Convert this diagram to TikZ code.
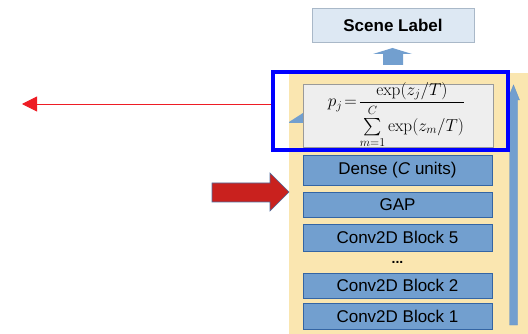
\documentclass[tikz,border=0pt]{standalone}
\usepackage{amsmath}
\usepackage{exscale}
\usepackage[no-math]{fontspec}
\setmainfont{Liberation Sans}
\usetikzlibrary{arrows.meta}
\definecolor{panelyellow}{HTML}{FAE6B0}
\definecolor{blkfill}{HTML}{729FCF}
\definecolor{blkline}{HTML}{3465A4}
\definecolor{labfill}{HTML}{DDE8F3}
\definecolor{labline}{HTML}{A9B8C8}
\definecolor{fmfill}{HTML}{EEEEEE}
\definecolor{fmline}{HTML}{9A9A9A}
\definecolor{redline}{HTML}{EE1C24}
\definecolor{redfill}{HTML}{C9211E}
\definecolor{redborder}{HTML}{4F6FA0}
\tikzset{
  blk/.style={draw=blkline, fill=blkfill, line width=0.6pt, minimum width=189pt, inner sep=0pt,
    font=\fontsize{17}{17}\selectfont, text=black},
  labbox/.style={draw=labline, fill=labfill, line width=0.6pt, inner sep=0pt,
    font=\fontsize{17}{17}\selectfont\bfseries},
  fmbox/.style={draw=fmline, fill=fmfill, line width=0.6pt, inner sep=0pt},
  bluearrow/.style={fill=blkfill, draw=blkfill!80!blkline, line width=0.4pt},
}
\begin{document}
\begin{tikzpicture}[x=1pt,y=-1pt]
\useasboundingbox (0,0) rectangle (528,334);
% yellow panel
\fill[panelyellow] (289,73) rectangle (528,334);
% right vertical arrow
\draw[bluearrow] (509.5,325) -- (509.5,100) -- (507.5,100) -- (513.5,85) -- (519.5,100) -- (517.5,100) -- (517.5,325) -- cycle;
% small blue wedge at left of formula
\fill[blkfill] (289,122) -- (303,113) -- (303,123) -- (289,123) -- cycle;
% formula box
\node[fmbox, minimum width=190pt, minimum height=63pt] (formula) at (398,115.5) {};
\node[inner sep=0pt] (formulatext) at (396.5,115)
  {\fontsize{16.5}{16.5}\selectfont $\displaystyle p_j\!=\!\frac{\exp(z_j/T)}{\sum\limits_{m=1}^{C}\exp(z_m/T)}$};
% blue highlight rectangle
\node[draw={rgb,255:red,0;green,0;blue,255}, line width=4pt, minimum width=235pt, minimum height=78pt, inner sep=0pt] (hl) at (390.5,111) {};
% scene label
\node[labbox, minimum width=162pt, minimum height=34pt] (scene) at (393,25) {Scene Label};
% up block arrow
\fill[blkfill] (383,65) -- (383,54) -- (373,54) -- (392.5,48) -- (412,54) -- (403,54) -- (403,65) -- cycle;
% layer blocks
\node[blk, minimum height=30pt] (dense) at (397.5,170) {Dense (\textit{C} units)};
\node[blk, minimum height=25pt] (gap) at (397.5,204.5) {GAP};
\node[blk, minimum height=27pt] (c5) at (397.5,237.5) {Conv2D Block 5};
\node[font=\fontsize{14}{14}\selectfont\bfseries, inner sep=0pt] (dots) at (397.5,262) {...};
\node[blk, minimum height=25pt] (c2) at (397.5,285.5) {Conv2D Block 2};
\node[blk, minimum height=26pt] (c1) at (397.5,316) {Conv2D Block 1};
% red thin arrow
\coordinate (rs) at (270.5,104);
\coordinate (re) at (22,104);
\draw[redline, line width=0.9pt, -{Triangle[length=15pt,width=15pt]}] (rs) -- (re);
% red block arrow
\draw[fill=redfill, draw=redborder, line width=0.6pt]
  (212,183) -- (270,183) -- (270,173) -- (289,192) -- (270,211) -- (270,202) -- (212,202) -- cycle;
\end{tikzpicture}
\end{document}
